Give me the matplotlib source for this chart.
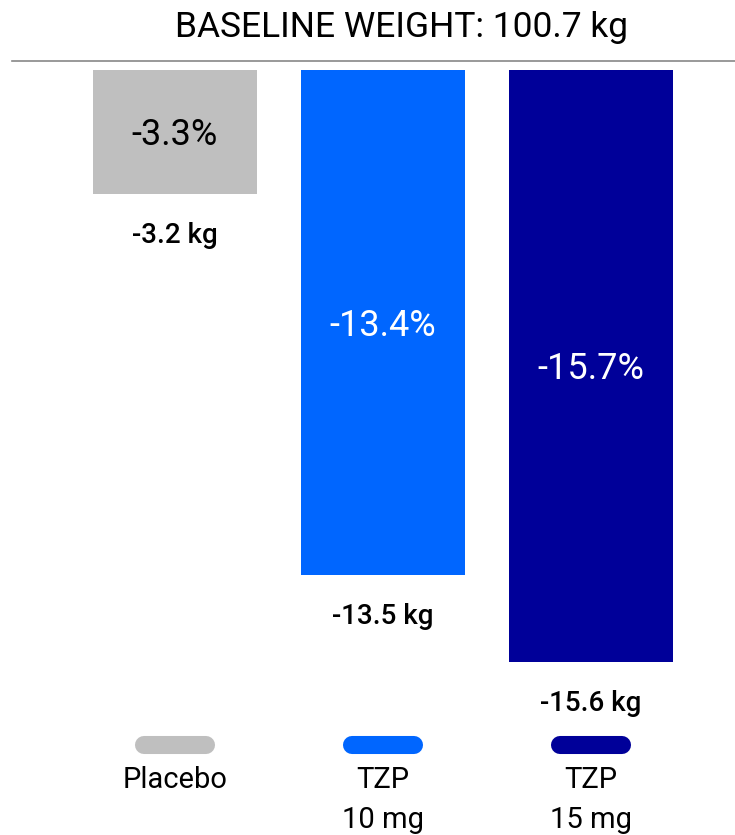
import matplotlib.pyplot as plt

plt.rcParams['font.family'] = ['Roboto', 'DejaVu Sans']

groups = ['Placebo', 'TZP\n10 mg', 'TZP\n15 mg']
pct_change = [-3.3, -13.4, -15.7]
kg_change = [-3.2, -13.5, -15.6]
colors = ['#BFBFBF', '#0066FF', '#000099']
title = 'BASELINE WEIGHT: 100.7 kg'

fig = plt.figure(figsize=(7.35, 8.35), dpi=100)
ax = fig.add_axes([0, 0, 1, 1])
ax.set_xlim(-0.841, 2.692)
ax.set_ylim(-20.29, 1.857)
ax.axis('off')

x = range(len(groups))
ax.bar(x, pct_change, width=0.788, color=colors, bottom=0)

for i, (p, k) in enumerate(zip(pct_change, kg_change)):
    tc = 'black' if i == 0 else 'white'
    ax.text(i, p / 2 - 0.08, f'{p:.1f}%', ha='center', va='center',
            fontsize=26, color=tc)
    ax.text(i, p - 1.1, f'{k:.1f} kg', ha='center', va='center',
            fontsize=20, color='black', fontweight='medium')

# header
ax.plot([-0.783, 2.692], [0.24, 0.24], color='#888888', lw=1.2)
ax.text(1.09, 1.14, title, ha='center', va='center', fontsize=25.5)

# legend pills
for i, (g, c) in enumerate(zip(groups, colors)):
    ax.plot([i - 0.15, i + 0.15], [-17.9, -17.9], color=c, lw=13,
            solid_capstyle='round')
    ax.text(i, -18.45, g, ha='center', va='top', fontsize=21,
            linespacing=1.55)

fig.savefig('out.png', dpi=100)
